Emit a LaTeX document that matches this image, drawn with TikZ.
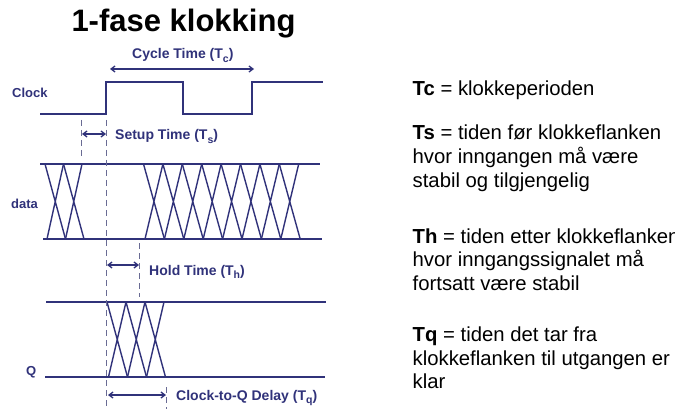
\documentclass[tikz,border=0pt]{standalone}
\usepackage{fontspec}
\setmainfont{Liberation Sans}
\usetikzlibrary{arrows.meta}
\definecolor{wave}{RGB}{48,50,122}
\definecolor{guide}{RGB}{105,107,148}
\newcommand{\lowsub}[1]{\raisebox{-0.45ex}{\fontsize{10.5}{10.5}\selectfont #1}}

\begin{document}
\begin{tikzpicture}[x=1pt,y=-1pt,
  wave/.style={draw=wave,line width=1.7pt},
  xing/.style={draw=wave,line width=1.4pt},
  guideline/.style={draw=guide,line width=0.8pt,dash pattern=on 6pt off 4pt},
  span/.style={draw=wave,line width=1.3pt,
    {Straight Barb[length=4pt,width=6pt]}-{Straight Barb[length=4pt,width=6pt]}},
  siglabel/.style={text=wave,font=\fontsize{13}{13}\selectfont\bfseries,inner sep=0pt,anchor=base west},
  timelabel/.style={text=wave,font=\fontsize{14}{14}\selectfont\bfseries,inner sep=0pt,anchor=base west},
  note/.style={font=\fontsize{20.3}{20.3}\selectfont,inner sep=0pt,anchor=base west}]
\useasboundingbox[fill=white] (0,0) rectangle (675,409);

% title
\node[font=\fontsize{31}{31}\selectfont\bfseries,inner sep=0pt,anchor=base] (title) at (183.5,32) {1-fase klokking};

% signal names
\node[siglabel] (clk) at (12,98) {Clock};
\node[siglabel] (data) at (11,208) {data};
\node[siglabel] (q) at (26,375) {Q};

% clock waveform
\draw[wave] (40,114) -- (106,114) -- (106,82) -- (183,82) -- (183,114)
  -- (252,114) -- (252,82) -- (323,82);

% data bus
\draw[wave] (40,164) -- (320,164);
\draw[wave] (43,239) -- (322,239);
\foreach \i in {0,1}{
  \pgfmathsetmacro{\a}{45+18.5*\i}
  \draw[xing] (\a,164) -- ({\a+18.5+2},239) ({\a+18.5},164) -- ({\a+2},239);
}
\foreach \i in {0,...,7}{
  \pgfmathsetmacro{\a}{143.5+19.4*\i}
  \draw[xing] (\a,164) -- ({\a+19.4+1.5},239) ({\a+19.4},164) -- ({\a+1.5},239);
}

% Q bus
\draw[wave] (46,302) -- (326,302);
\draw[wave] (45,377) -- (325,377);
\foreach \i in {0,1,2}{
  \pgfmathsetmacro{\a}{107+19*\i}
  \draw[xing] (\a,302) -- ({\a+19+1.5},377) ({\a+19},302) -- ({\a+1.5},377);
}

% guide lines
\coordinate (suTop) at (81,120);   \coordinate (suBot) at (81,157);
\coordinate (edTop) at (106,120);  \coordinate (edBot) at (106,409);
\coordinate (hoTop) at (139,243);  \coordinate (hoBot) at (139,297);
\coordinate (tqTop) at (166,387);  \coordinate (tqBot) at (166,409);
\draw[guideline] (suTop) -- (suBot);
\draw[guideline] (edTop) -- (edBot);
\draw[guideline] (hoTop) -- (hoBot);
\draw[guideline] (tqTop) -- (tqBot);

% timing spans
\coordinate (tcL) at (110,69);  \coordinate (tcR) at (254,69);
\coordinate (tsL) at (82,134);  \coordinate (tsR) at (106,134);
\coordinate (thL) at (107,265); \coordinate (thR) at (139,265);
\coordinate (tqL) at (108,395); \coordinate (tqR) at (166,395);
\draw[span] (tcL) -- (tcR);
\draw[span] (tsL) -- (tsR);
\draw[span] (thL) -- (thR);
\draw[span] (tqL) -- (tqR);

\node[timelabel] (tclab) at (132,59) {Cycle Time (T\lowsub{c})};
\node[timelabel] (tslab) at (115,140) {Setup Time (T\lowsub{s})};
\node[timelabel] (thlab) at (149,275) {Hold Time (T\lowsub{h})};
\node[timelabel] (tqlab) at (176,400) {Clock-to-Q Delay (T\lowsub{q})};

% explanations, one node per line
\node[note] (tc1) at (412.5,96)    {\textbf{Tc} = klokkeperioden};
\node[note] (ts1) at (412.5,140)   {\textbf{Ts} = tiden før klokkeflanken};
\node[note] (ts2) at (412.5,163.5) {hvor inngangen må være};
\node[note] (ts3) at (412.5,187)   {stabil og tilgjengelig};
\node[note] (th1) at (412.5,243)   {\textbf{Th} = tiden etter klokkeflanken};
\node[note] (th2) at (412.5,266.5) {hvor inngangssignalet må};
\node[note] (th3) at (412.5,290)   {fortsatt være stabil};
\node[note] (tq1) at (412.5,341.5) {\textbf{Tq} = tiden det tar fra};
\node[note] (tq2) at (412.5,365)   {klokkeflanken til utgangen er};
\node[note] (tq3) at (412.5,388.5) {klar};
\end{tikzpicture}
\end{document}
